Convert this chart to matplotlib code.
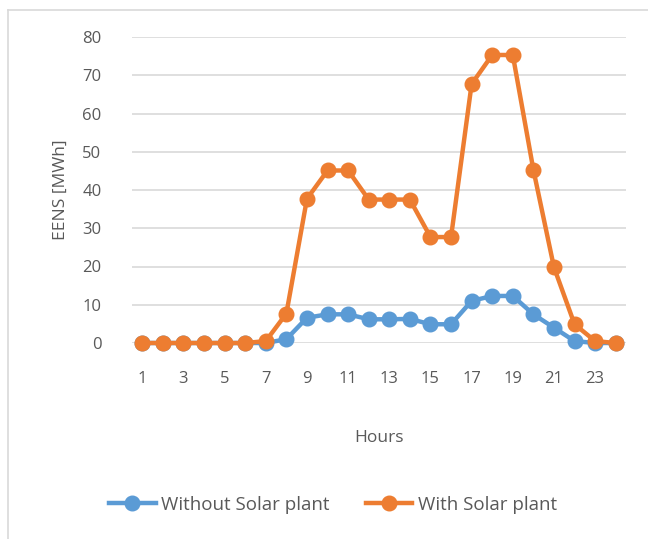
import matplotlib
matplotlib.use("Agg")
import matplotlib.pyplot as plt
from matplotlib.lines import Line2D

hours = list(range(1, 25))
without_solar = [0, 0, 0, 0, 0, 0, 0, 1, 6.6, 7.5, 7.5, 6.2, 6.2, 6.3, 4.9, 4.9,
                 11, 12.3, 12.3, 7.5, 4, 0.5, 0, 0]
with_solar = [0, 0, 0, 0, 0, 0, 0.5, 7.7, 37.7, 45.1, 45.1, 37.5, 37.5, 37.5, 27.7, 27.7,
              67.7, 75.3, 75.3, 45.3, 19.8, 4.9, 0.5, 0]
xtick_labels = [1, 3, 5, 7, 9, 11, 13, 15, 17, 19, 21, 23]
yticks = [0, 10, 20, 30, 40, 50, 60, 70, 80]

plt.rcParams['font.family'] = ['Open Sans', 'DejaVu Sans']
txt = '#595959'
blue = '#5B9BD5'
orange = '#ED7D31'

fig = plt.figure(figsize=(6.48, 5.39), dpi=100)
ax = fig.add_axes([132/648, 1-343/539, 494/648, 306/539])

ax.plot(hours, without_solar, color=blue, lw=3.2, marker='o', ms=10.5,
        label='Without Solar plant', zorder=3)
ax.plot(hours, with_solar, color=orange, lw=3.2, marker='o', ms=10.5,
        label='With Solar plant', zorder=4)

ax.set_xlim(0.5, 24.5)
ax.set_ylim(0, 80)
ax.set_yticks(yticks)
ax.set_xticks(xtick_labels)
ax.set_xticklabels([str(v) for v in xtick_labels])
ax.grid(axis='y', color='#D9D9D9', lw=1.2)
ax.set_axisbelow(True)
for s in ax.spines.values():
    s.set_visible(False)
ax.tick_params(length=0, labelsize=12, colors=txt)
ax.tick_params(axis='x', pad=20)
ax.tick_params(axis='y', pad=22)
for l in ax.lines:
    l.set_clip_on(False)

ax.set_xlabel('Hours', fontsize=12.5, color=txt, labelpad=31)
ax.set_ylabel('EENS [MWh]', fontsize=12.5, color=txt, labelpad=9.5)

leg = fig.legend(loc='center', bbox_to_anchor=(0.514, 1-505/539), ncol=2, frameon=False,
                 fontsize=13.5, handlelength=2.5, columnspacing=1.9, handletextpad=0.3)
for t in leg.get_texts():
    t.set_color(txt)

# chart frame (left and top edges)
fig.add_artist(Line2D([8/648, 8/648], [0, 1-10/539], color='#D9D9D9', lw=1.2, transform=fig.transFigure))
fig.add_artist(Line2D([8/648, 1], [1-10/539, 1-10/539], color='#D9D9D9', lw=1.2, transform=fig.transFigure))

fig.savefig('out.png', dpi=100)
